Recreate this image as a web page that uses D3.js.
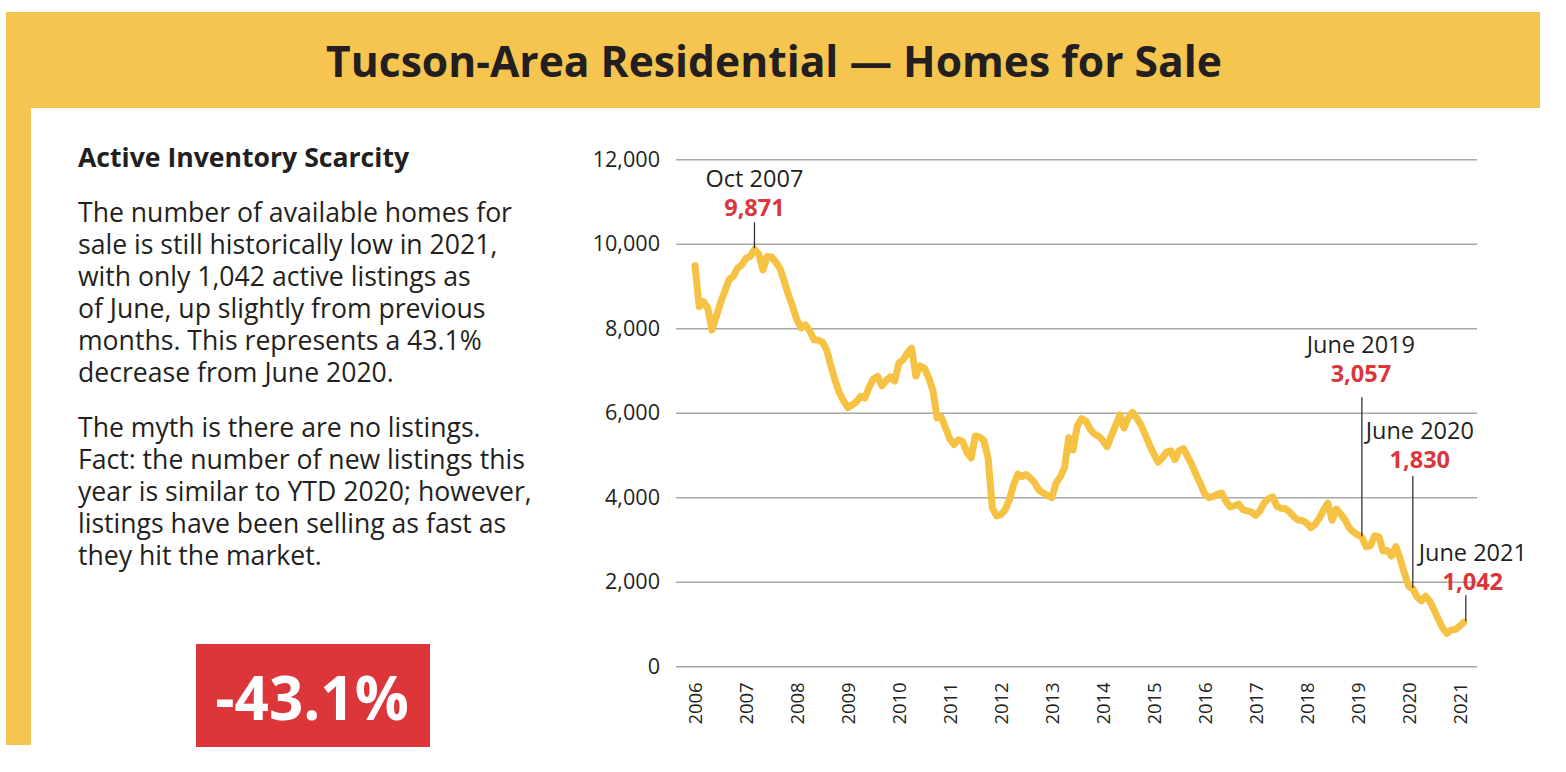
<!DOCTYPE html>
<html>
<head>
<meta charset="utf-8">
<script src="https://cdn.jsdelivr.net/npm/d3@7"></script>
<style>
  body { margin: 0; background: #fff; }
  text { font-family: "Open Sans", sans-serif; }
</style>
</head>
<body>
<div id="chart"></div>
<script>
// Active listings, one value per month (first month sits on the 2006 label)
const values = [
  9480, 8510, 8630, 8480, 7960, 8280, 8600, 8870, 9150, 9230, 9420, 9500,
  9660, 9700, 9871, 9760, 9380, 9700, 9690, 9570, 9420, 9120, 8790, 8510,
  8200, 8010, 8080, 7940, 7730, 7720, 7670, 7490, 7110, 6760, 6470, 6280,
  6120, 6190, 6260, 6390, 6350, 6610, 6800, 6860, 6640, 6760, 6850, 6750,
  7180, 7250, 7420, 7530, 6870, 7110, 7060, 6830, 6540, 5880, 5900, 5640,
  5380, 5250, 5360, 5320, 5070, 4930, 5450, 5430, 5340, 4930, 3750, 3560,
  3590, 3700, 3940, 4290, 4550, 4490, 4540, 4450, 4340, 4170, 4100, 4040,
  3990, 4340, 4480, 4700, 5410, 5120, 5690, 5860, 5810, 5620, 5500, 5450,
  5340, 5200, 5450, 5690, 5950, 5640, 5880, 6010, 5880, 5710, 5480, 5240,
  5030, 4830, 4930, 5070, 5100, 4890, 5110, 5150, 4960, 4770, 4530, 4320,
  4080, 3990, 4020, 4070, 4100, 3910, 3770, 3800, 3840, 3710, 3680, 3650,
  3570, 3680, 3870, 3960, 4010, 3790, 3740, 3730, 3650, 3540, 3460, 3450,
  3390, 3280, 3360, 3510, 3700, 3860, 3460, 3720, 3610, 3470, 3280, 3180,
  3110, 3057, 2830, 2850, 3090, 3070, 2730, 2740, 2610, 2830, 2560, 2210,
  1900, 1830, 1640, 1550, 1660, 1540, 1330, 1120, 910, 780, 860, 870,
  950, 1042
];

const yearLabels = ["2006", "2007", "2008", "2009", "2010", "2011", "2012", "2013",
  "2014", "2015", "2016", "2017", "2018", "2019", "2020", "2021"];

const yTicks = [0, 2000, 4000, 6000, 8000, 10000, 12000];

const annotations = [
  { label: "Oct 2007", index: 14 },
  { label: "June 2019", index: 157 },
  { label: "June 2020", index: 169 },
  { label: "June 2021", index: 181 }
];

const paragraph1 = [
  "The number of available homes for",
  "sale is still historically low in 2021,",
  "with only 1,042 active listings as",
  "of June, up slightly from previous",
  "months. This represents a 43.1%",
  "decrease from June 2020."
];
const paragraph2 = [
  "The myth is there are no listings.",
  "Fact: the number of new listings this",
  "year is similar to YTD 2020; however,",
  "listings have been selling as fast as",
  "they hit the market."
];

const width = 1566;
const height = 772;
const yellow = "#F6C54F";
const red = "#DC363A";
const ink = "#231F20";

const svg = d3.select("#chart")
  .append("svg")
  .attr("width", width)
  .attr("height", height);

// frame
svg.append("rect")
  .attr("x", 6).attr("y", 12)
  .attr("width", 1534).attr("height", 96)
  .attr("fill", yellow);

svg.append("rect")
  .attr("x", 6).attr("y", 12)
  .attr("width", 25).attr("height", 733)
  .attr("fill", yellow);

svg.append("text")
  .attr("x", 774)
  .attr("y", 77)
  .attr("text-anchor", "middle")
  .attr("font-size", 42.6)
  .attr("font-weight", 700)
  .attr("fill", ink)
  .text("Tucson-Area Residential \u2014 Homes for Sale");

// left column
svg.append("text")
  .attr("x", 78)
  .attr("y", 167)
  .attr("font-size", 26.6)
  .attr("font-weight", 700)
  .attr("fill", ink)
  .text("Active Inventory Scarcity");

// each paragraph is one text block, one tspan per line
function addParagraph(lines, top) {
  svg.append("text")
    .attr("x", 78)
    .attr("y", top)
    .attr("font-size", 26.6)
    .attr("fill", ink)
    .selectAll("tspan")
    .data(lines)
    .enter()
    .append("tspan")
    .attr("x", 78)
    .attr("dy", (d, i) => i === 0 ? 0 : 31.9)
    .text(d => d);
}
addParagraph(paragraph1, 222);
addParagraph(paragraph2, 437);

svg.append("rect")
  .attr("x", 196).attr("y", 644)
  .attr("width", 234).attr("height", 103)
  .attr("fill", red);

svg.append("text")
  .attr("x", 312)
  .attr("y", 720)
  .attr("text-anchor", "middle")
  .attr("font-size", 60)
  .attr("font-weight", 700)
  .attr("fill", "#fff")
  .text("-43.1%");

// chart
const gridLeft = 676;
const gridRight = 1477;

const x = d3.scaleLinear()
  .domain([0, values.length - 1])
  .range([695, 1463.8]);

const y = d3.scaleLinear()
  .domain([0, 12000])
  .range([666.3, 159.3]);

const yAxis = svg.append("g")
  .attr("transform", `translate(${gridLeft},0)`)
  .call(d3.axisLeft(y)
    .tickValues(yTicks)
    .tickSize(-(gridRight - gridLeft))
    .tickPadding(16)
    .tickFormat(d3.format(",")));

yAxis.select(".domain").remove();
yAxis.selectAll(".tick line")
  .attr("stroke", "#A8A8A8")
  .attr("stroke-width", 1.5);
yAxis.selectAll(".tick text")
  .attr("font-family", "'Open Sans', sans-serif")
  .attr("font-size", 21.6)
  .attr("fill", ink);

const xAxis = svg.append("g")
  .attr("transform", `translate(0,${y(0)})`)
  .call(d3.axisBottom(x)
    .tickValues(yearLabels.map((d, i) => i * 12))
    .tickSize(0)
    .tickFormat(d => yearLabels[d / 12]));

xAxis.select(".domain").remove();
xAxis.selectAll(".tick text")
  .attr("transform", "rotate(-90)")
  .attr("x", -16)
  .attr("y", 0)
  .attr("dy", "0.35em")
  .attr("text-anchor", "end")
  .attr("font-family", "'Liberation Sans', Arial, sans-serif")
  .attr("font-size", 18.5)
  .attr("fill", ink);

const line = d3.line()
  .x((d, i) => x(i))
  .y(d => y(d));

svg.append("path")
  .datum(values)
  .attr("d", line)
  .attr("fill", "none")
  .attr("stroke", "#F5C244")
  .attr("stroke-width", 7)
  .attr("stroke-linejoin", "round")
  .attr("stroke-linecap", "round");

// annotations: label shift and how far above the point the value sits
const notePlacement = [
  { dx: 0, rise: 33, gap: 6 },
  { dx: -1, rise: 155, gap: 15 },
  { dx: 7, rise: 121, gap: 8 },
  { dx: 9, rise: 32, gap: 5 }
];

const notes = svg.append("g")
  .selectAll("g")
  .data(annotations)
  .enter()
  .append("g");

notes.append("line")
  .attr("x1", d => x(d.index) + (d.index === 181 ? 2 : 0))
  .attr("x2", d => x(d.index) + (d.index === 181 ? 2 : 0))
  .attr("y1", (d, i) => y(values[d.index]) - notePlacement[i].rise + notePlacement[i].gap)
  .attr("y2", d => y(values[d.index]) - 1)
  .attr("stroke", "#333")
  .attr("stroke-width", 1.3);

notes.append("text")
  .attr("x", (d, i) => x(d.index) + notePlacement[i].dx)
  .attr("y", (d, i) => y(values[d.index]) - notePlacement[i].rise)
  .attr("text-anchor", "middle")
  .attr("font-size", 23.5)
  .attr("font-weight", 700)
  .attr("fill", red)
  .text(d => d3.format(",")(values[d.index]));

notes.append("text")
  .attr("x", (d, i) => x(d.index) + notePlacement[i].dx)
  .attr("y", (d, i) => y(values[d.index]) - notePlacement[i].rise - 29)
  .attr("text-anchor", "middle")
  .attr("font-size", 23.5)
  .attr("fill", ink)
  .text(d => d.label);
</script>
</body>
</html>
